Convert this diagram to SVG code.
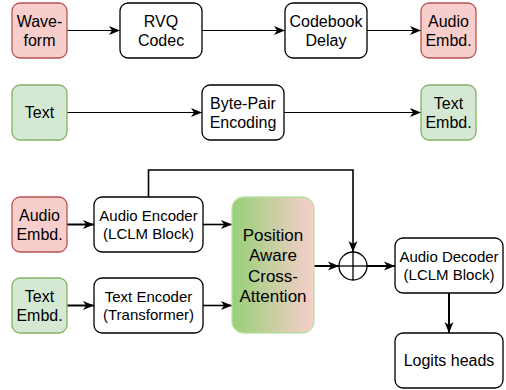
<svg xmlns="http://www.w3.org/2000/svg" width="506" height="390" viewBox="0 0 506 390">
<style>
  .box{fill:#ffffff;stroke:#000000;stroke-width:1.3}
  .red{fill:#f8cecc;stroke:#b85450;stroke-width:1.3}
  .green{fill:#d5e8d4;stroke:#82b366;stroke-width:1.3}
  text{font-family:"Liberation Sans",Arial,Helvetica,sans-serif;fill:#000000;text-anchor:middle}
  .t16{font-size:16px}
  .t15{font-size:15px}
  .t17{font-size:17px}
  .c{fill:none;stroke:#000000}
  .w1{stroke-width:1.2}
  .w15{stroke-width:1.6}
  .w2{stroke-width:2}
</style>
<defs>
  <marker id="arr" markerUnits="userSpaceOnUse" markerWidth="12" markerHeight="10" viewBox="0 0 12 10" refX="11" refY="5" orient="auto">
    <path d="M0,0.5 L11,5 L0,9.5 L3,5 Z" fill="#000000"/>
  </marker>
  <linearGradient id="grad" x1="0" y1="0" x2="1" y2="0">
    <stop offset="0" stop-color="#97d077"/>
    <stop offset="1" stop-color="#f8cecc"/>
  </linearGradient>
</defs>

<g id="connectors">
  <line class="c w1" x1="67" y1="30.5" x2="120" y2="30.5" marker-end="url(#arr)"/>
  <line class="c w1" x1="202" y1="30.5" x2="285" y2="30.5" marker-end="url(#arr)"/>
  <line class="c w1" x1="367" y1="30.5" x2="421" y2="30.5" marker-end="url(#arr)"/>
  <line class="c w1" x1="67" y1="112.5" x2="202" y2="112.5" marker-end="url(#arr)"/>
  <line class="c w1" x1="284" y1="112.5" x2="421" y2="112.5" marker-end="url(#arr)"/>
  <line class="c w2" x1="67" y1="224.5" x2="94" y2="224.5" marker-end="url(#arr)"/>
  <line class="c w2" x1="67" y1="305.5" x2="94" y2="305.5" marker-end="url(#arr)"/>
  <line class="c w15" x1="203" y1="224.5" x2="232" y2="224.5" marker-end="url(#arr)"/>
  <line class="c w15" x1="203" y1="305.5" x2="232" y2="305.5" marker-end="url(#arr)"/>
  <polyline class="c w15" points="148.5,197 148.5,170 353,170 353,252" marker-end="url(#arr)"/>
  <line class="c w2" x1="314" y1="266" x2="339" y2="266" marker-end="url(#arr)"/>
  <line class="c w2" x1="367" y1="266" x2="395" y2="266" marker-end="url(#arr)"/>
  <line class="c w2" x1="449" y1="293" x2="449" y2="333" marker-end="url(#arr)"/>
</g>

<g id="waveform">
  <rect class="red" x="12" y="3" width="55" height="55" rx="8"/>
  <text class="t16" x="39.5" y="26.5">Wave-</text>
  <text class="t16" x="39.5" y="45.7">form</text>
</g>
<g id="rvq-codec">
  <rect class="box" x="120" y="3" width="82" height="55" rx="8"/>
  <text class="t16" x="161" y="26.5">RVQ</text>
  <text class="t16" x="161" y="45.7">Codec</text>
</g>
<g id="codebook-delay">
  <rect class="box" x="285" y="3" width="82" height="55" rx="8"/>
  <text class="t16" x="326" y="26.5">Codebook</text>
  <text class="t16" x="326" y="45.7">Delay</text>
</g>
<g id="audio-embd-top">
  <rect class="red" x="421" y="3" width="55" height="55" rx="8"/>
  <text class="t16" x="448.5" y="26.5">Audio</text>
  <text class="t16" x="448.5" y="45.7">Embd.</text>
</g>

<g id="text">
  <rect class="green" x="12" y="85" width="55" height="55" rx="8"/>
  <text class="t16" x="39.5" y="118">Text</text>
</g>
<g id="bpe">
  <rect class="box" x="202" y="85" width="82" height="55" rx="8"/>
  <text class="t16" x="243" y="108.5">Byte-Pair</text>
  <text class="t16" x="243" y="127.7">Encoding</text>
</g>
<g id="text-embd-top">
  <rect class="green" x="421" y="85" width="55" height="55" rx="8"/>
  <text class="t16" x="448.5" y="108.5">Text</text>
  <text class="t16" x="448.5" y="127.7">Embd.</text>
</g>

<g id="audio-embd">
  <rect class="red" x="12" y="197" width="55" height="55" rx="8"/>
  <text class="t16" x="39.5" y="220.6">Audio</text>
  <text class="t16" x="39.5" y="239.8">Embd.</text>
</g>
<g id="audio-encoder">
  <rect class="box" x="94" y="197" width="109" height="55" rx="8"/>
  <text class="t15" x="148.5" y="220.8">Audio Encoder</text>
  <text class="t15" x="148.5" y="238.8">(LCLM Block)</text>
</g>
<g id="text-embd">
  <rect class="green" x="12" y="278" width="55" height="55" rx="8"/>
  <text class="t16" x="39.5" y="301.6">Text</text>
  <text class="t16" x="39.5" y="320.8">Embd.</text>
</g>
<g id="text-encoder">
  <rect class="box" x="94" y="278" width="109" height="55" rx="8"/>
  <text class="t15" x="148.5" y="301.8">Text Encoder</text>
  <text class="t15" x="148.5" y="319.8">(Transformer)</text>
</g>
<g id="cross-attention">
  <rect x="232" y="197" width="82" height="136" rx="12" fill="url(#grad)" stroke="#b9e0a5" stroke-width="1.3"/>
  <text class="t17" x="273" y="240.5">Position</text>
  <text class="t17" x="273" y="261">Aware</text>
  <text class="t17" x="273" y="281.5">Cross-</text>
  <text class="t17" x="273" y="302">Attention</text>
</g>
<g id="sum">
  <circle cx="353" cy="266" r="14" fill="#ffffff" stroke="#000000" stroke-width="1.3"/>
  <line x1="339" y1="266" x2="367" y2="266" stroke="#000000" stroke-width="1.3"/>
  <line x1="353" y1="252" x2="353" y2="280" stroke="#000000" stroke-width="1.3"/>
</g>
<g id="audio-decoder">
  <rect class="box" x="395" y="238" width="108" height="55" rx="8"/>
  <text class="t15" x="449" y="261.8">Audio Decoder</text>
  <text class="t15" x="449" y="279.8">(LCLM Block)</text>
</g>
<g id="logits-heads">
  <rect class="box" x="395" y="333" width="108" height="55" rx="8"/>
  <text class="t16" x="449" y="366">Logits heads</text>
</g>
</svg>
